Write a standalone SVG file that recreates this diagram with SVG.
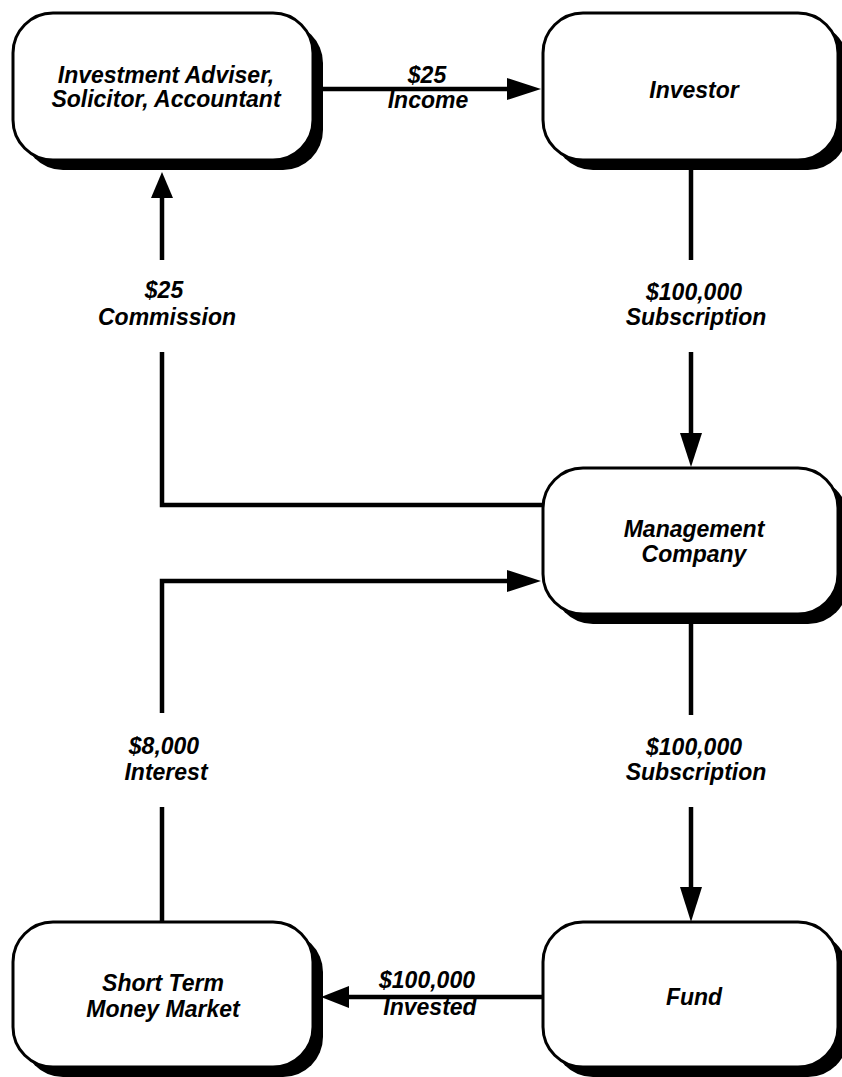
<svg xmlns="http://www.w3.org/2000/svg" width="842" height="1077" viewBox="0 0 842 1077">
<style>
.box{fill:#fff;stroke:#000;stroke-width:3}
.sh{fill:#000}
.t{font-family:"Liberation Sans",Arial,sans-serif;font-weight:bold;font-style:italic;font-size:23px;fill:#000;text-anchor:middle}
.ln{stroke:#000;stroke-width:4.5;fill:none}
.ah{fill:#000}
</style>
<rect width="842" height="1077" fill="#fff"/>
<g id="connectors">
  <!-- Adviser -> Investor -->
  <line class="ln" x1="323" y1="89" x2="510" y2="89"/>
  <polygon class="ah" points="541,89 507,78 507,100"/>
  <text class="t" x="427" y="83">$25</text>
  <text class="t" x="428" y="108">Income</text>
  <!-- Investor -> Management -->
  <line class="ln" x1="691" y1="170" x2="691" y2="260"/>
  <line class="ln" x1="691" y1="352" x2="691" y2="436"/>
  <polygon class="ah" points="691,467 680,433 702,433"/>
  <text class="t" x="694" y="300">$100,000</text>
  <text class="t" x="696" y="325">Subscription</text>
  <!-- Management -> Adviser (commission) -->
  <polyline class="ln" points="543,505 162,505 162,352"/>
  <line class="ln" x1="162" y1="260" x2="162" y2="195"/>
  <polygon class="ah" points="162,172 151,198 173,198"/>
  <text class="t" x="164" y="298">$25</text>
  <text class="t" x="167" y="325">Commission</text>
  <!-- Management -> Fund -->
  <line class="ln" x1="691" y1="624" x2="691" y2="715"/>
  <line class="ln" x1="691" y1="807" x2="691" y2="890"/>
  <polygon class="ah" points="691,922 680,887 702,887"/>
  <text class="t" x="694" y="755">$100,000</text>
  <text class="t" x="696" y="780">Subscription</text>
  <!-- Fund -> Short Term -->
  <line class="ln" x1="543" y1="997" x2="345" y2="997"/>
  <polygon class="ah" points="321,997 349,986 349,1008"/>
  <text class="t" x="427" y="988">$100,000</text>
  <text class="t" x="430" y="1015">Invested</text>
  <!-- Short Term -> Management (interest) -->
  <line class="ln" x1="162" y1="922" x2="162" y2="807"/>
  <polyline class="ln" points="162,713 162,581 510,581"/>
  <polygon class="ah" points="541,581 507,570 507,592"/>
  <text class="t" x="164" y="754">$8,000</text>
  <text class="t" x="166" y="780">Interest</text>
</g>
<g id="node-adviser">
  <rect class="sh" x="23" y="23" width="300" height="147" rx="40"/>
  <rect class="box" x="13" y="13" width="300" height="147" rx="40"/>
  <text class="t" x="166" y="83">Investment Adviser,</text>
  <text class="t" x="166" y="107">Solicitor, Accountant</text>
</g>
<g id="node-investor">
  <rect class="sh" x="553" y="23" width="295" height="147" rx="40"/>
  <rect class="box" x="543" y="13" width="295" height="147" rx="40"/>
  <text class="t" x="694" y="98">Investor</text>
</g>
<g id="node-management">
  <rect class="sh" x="553" y="478" width="295" height="146" rx="40"/>
  <rect class="box" x="543" y="468" width="295" height="146" rx="40"/>
  <text class="t" x="694" y="537">Management</text>
  <text class="t" x="694" y="562">Company</text>
</g>
<g id="node-fund">
  <rect class="sh" x="553" y="932" width="295" height="145" rx="40"/>
  <rect class="box" x="543" y="922" width="295" height="145" rx="40"/>
  <text class="t" x="694" y="1005">Fund</text>
</g>
<g id="node-shortterm">
  <rect class="sh" x="23" y="932" width="300" height="145" rx="40"/>
  <rect class="box" x="13" y="922" width="300" height="145" rx="40"/>
  <text class="t" x="163" y="991">Short Term</text>
  <text class="t" x="163" y="1017">Money Market</text>
</g>
</svg>
